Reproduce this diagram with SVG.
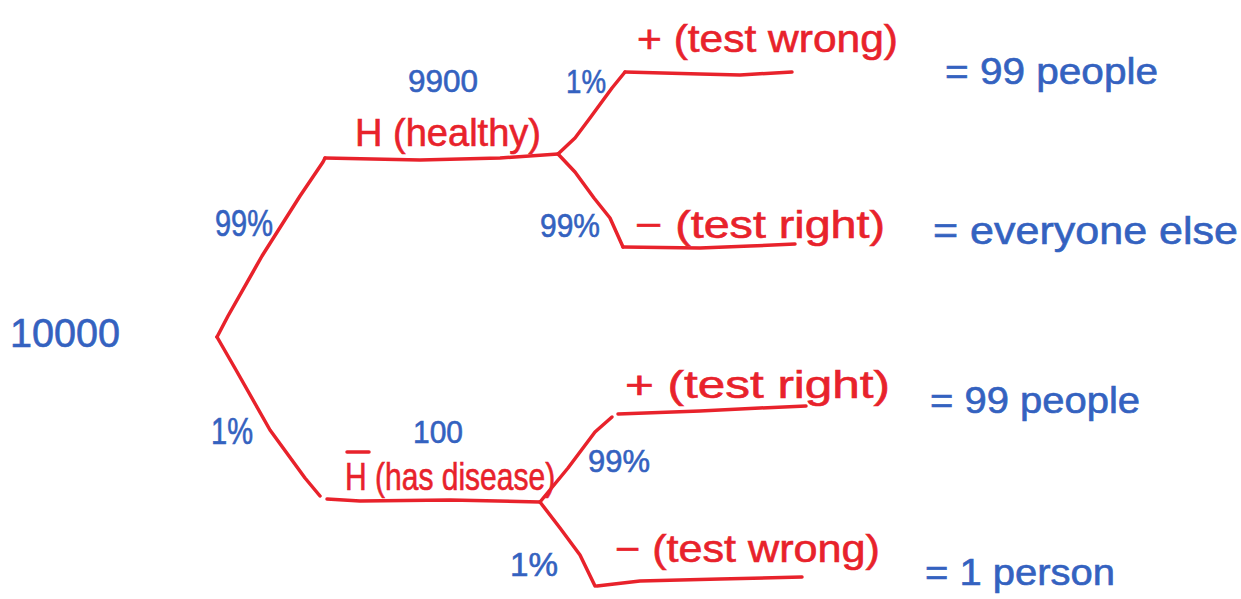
<svg xmlns="http://www.w3.org/2000/svg" width="1241" height="599" viewBox="0 0 1241 599">
<style>
.edge{fill:none;stroke:#e8222b;stroke-width:3.5;stroke-linecap:round;stroke-linejoin:round}
.red{fill:#e8222b;stroke:#e8222b;stroke-width:0.6;font-family:"Liberation Sans","DejaVu Sans",sans-serif}
.blue{fill:#3462c0;stroke:#3462c0;stroke-width:0.6;font-family:"Liberation Sans","DejaVu Sans",sans-serif}
</style>
<rect width="1241" height="599" fill="#ffffff"/>
<g id="connectors">
<polyline class="edge" points="217,337 228,316 262,256 300,196 323,162 325,158"/>
<polyline class="edge" points="217,337 236,370 270,430 305,478 320,496"/>
<polyline class="edge" points="325,158 420,160 500,158 558,154"/>
<polyline class="edge" points="327,499 360,501 450,500 540,502"/>
<polyline class="edge" points="558,154 575,138 590,118 612,88 625,72"/>
<polyline class="edge" points="558,154 575,172 594,198 610,218 623,247"/>
<polyline class="edge" points="540,502 568,468 595,432 612,417"/>
<polyline class="edge" points="540,502 560,528 580,555 595,586"/>
<polyline class="edge" points="625,72 700,74 740,75 792,72"/>
<polyline class="edge" points="623,247 700,248 750,246 795,244"/>
<polyline class="edge" points="618,414 700,411 760,408 806,406"/>
<polyline class="edge" points="597,586 640,581 720,579 802,577"/>
</g>
<g id="edge-labels">
<text class="blue" x="215" y="236" font-size="36" textLength="58" lengthAdjust="spacingAndGlyphs">99%</text>
<text class="blue" x="211" y="444" font-size="36" textLength="42" lengthAdjust="spacingAndGlyphs">1%</text>
<text class="blue" x="566" y="93" font-size="34" textLength="40" lengthAdjust="spacingAndGlyphs">1%</text>
<text class="blue" x="540" y="237" font-size="34" textLength="60" lengthAdjust="spacingAndGlyphs">99%</text>
<text class="blue" x="588" y="472" font-size="32" textLength="62" lengthAdjust="spacingAndGlyphs">99%</text>
<text class="blue" x="510" y="576" font-size="34" textLength="48" lengthAdjust="spacingAndGlyphs">1%</text>
</g>
<g id="root">
<text class="blue" x="10" y="347" font-size="40" textLength="110" lengthAdjust="spacingAndGlyphs">10000</text>
</g>
<g id="healthy">
<text class="blue" x="408" y="92" font-size="32" textLength="70" lengthAdjust="spacingAndGlyphs">9900</text>
<text class="red" x="355" y="146" font-size="38" textLength="186" lengthAdjust="spacingAndGlyphs">H (healthy)</text>
</g>
<g id="disease">
<text class="blue" x="413" y="443" font-size="32" textLength="50" lengthAdjust="spacingAndGlyphs">100</text>
<line x1="347" y1="452" x2="369" y2="452" stroke="#e8222b" stroke-width="3.5" stroke-linecap="round"/>
<text class="red" transform="translate(345,490) scale(0.79,1)" x="0" y="0" font-size="38">H (has disease)</text>
</g>
<g id="leaf-healthy-pos">
<text class="red" x="637" y="52" font-size="38" textLength="261" lengthAdjust="spacingAndGlyphs">+ (test wrong)</text>
<text class="blue" x="945" y="84" font-size="36" textLength="213" lengthAdjust="spacingAndGlyphs">=  99 people</text>
</g>
<g id="leaf-healthy-neg">
<text class="red" x="635" y="238" font-size="38" textLength="250" lengthAdjust="spacingAndGlyphs">− (test right)</text>
<text class="blue" x="933" y="244" font-size="38" textLength="305" lengthAdjust="spacingAndGlyphs">=  everyone else</text>
</g>
<g id="leaf-disease-pos">
<text class="red" x="625" y="398" font-size="38" textLength="265" lengthAdjust="spacingAndGlyphs">+ (test  right)</text>
<text class="blue" x="930" y="413" font-size="36" textLength="210" lengthAdjust="spacingAndGlyphs">=  99 people</text>
</g>
<g id="leaf-disease-neg">
<text class="red" x="615" y="562" font-size="38" textLength="265" lengthAdjust="spacingAndGlyphs">− (test wrong)</text>
<text class="blue" x="925" y="585" font-size="36" textLength="190" lengthAdjust="spacingAndGlyphs">=  1 person</text>
</g>
</svg>
